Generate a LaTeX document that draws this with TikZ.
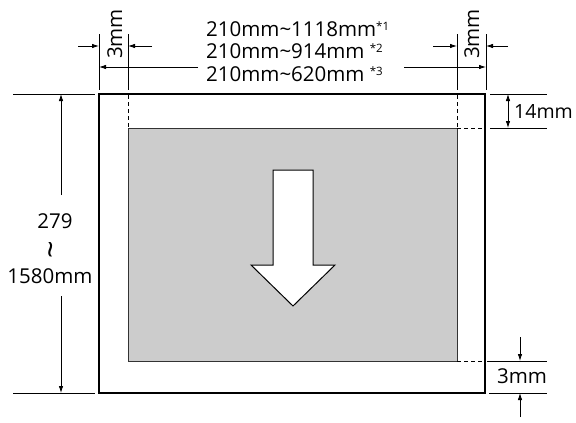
\documentclass[tikz,border=0pt]{standalone}
\usepackage{fontspec}
\setmainfont{Open Sans}
\usetikzlibrary{arrows.meta}
\newcommand{\sups}[1]{{\fontsize{11.5}{12}\selectfont\raisebox{5.5pt}{#1}}}
\newcommand{\tld}{{\char"7E}}
\begin{document}
\begin{tikzpicture}[x=1pt,y=-1pt,
  dimline/.style={line width=0.8pt},
  dimarrow/.style={line width=0.8pt,-{Latex[length=7pt,width=4.5pt]}},
  dimboth/.style={line width=0.8pt,{Latex[length=7pt,width=4.5pt]}-{Latex[length=7pt,width=4.5pt]}},
  dashline/.style={line width=0.8pt,dash pattern=on 4pt off 3pt},
  lbl/.style={font=\fontsize{20.5}{24}\selectfont,inner sep=0pt}]
\useasboundingbox (0,0) rectangle (576,423);
% paper and print area
\coordinate (pTL) at (99,94); \coordinate (pBR) at (485,393);
\coordinate (aTL) at (128,128); \coordinate (aBR) at (457,361);
\draw[line width=0.8pt,draw=black!80,fill=black!20] (aTL) rectangle (aBR);
\draw[line width=2.4pt] (pTL) rectangle (pBR);
% big arrow
\draw[line width=1pt,fill=white] (273,170) -- (313,170) -- (313,265) -- (335,265) -- (293,306) -- (251,265) -- (273,265) -- cycle;
% dashed margins
\coordinate (dL1) at (128,95); \coordinate (dL2) at (128,128);
\coordinate (dR1) at (457,95); \coordinate (dR2) at (457,128);
\coordinate (dT1) at (457,128); \coordinate (dT2) at (484,128);
\coordinate (dB1) at (457,361); \coordinate (dB2) at (484,361);
\draw[dashline] (dL1) -- (dL2);
\draw[dashline] (dR1) -- (dR2);
\draw[dashline] (dT1) -- (dT2);
\draw[dashline] (dB1) -- (dB2);
% top extension lines
\coordinate (e1a) at (99,34); \coordinate (e1b) at (99,90);
\coordinate (e2a) at (128,34); \coordinate (e2b) at (128,90);
\coordinate (e3a) at (457,34); \coordinate (e3b) at (457,90);
\coordinate (e4a) at (486,34); \coordinate (e4b) at (486,90);
\draw[dimline] (e1a) -- (e1b);
\draw[dimline] (e2a) -- (e2b);
\draw[dimline] (e3a) -- (e3b);
\draw[dimline] (e4a) -- (e4b);
% top 3mm arrows
\coordinate (t1s) at (78,46); \coordinate (t1e) at (99,46);
\coordinate (t2s) at (152,46); \coordinate (t2e) at (128,46);
\coordinate (t3s) at (433,46); \coordinate (t3e) at (457,46);
\coordinate (t4s) at (508,46); \coordinate (t4e) at (486,46);
\draw[dimarrow] (t1s) -- (t1e);
\draw[dimarrow] (t2s) -- (t2e);
\draw[dimarrow] (t3s) -- (t3e);
\draw[dimarrow] (t4s) -- (t4e);
% width dimension
\coordinate (w1s) at (198,67); \coordinate (w1e) at (99,67);
\coordinate (w2s) at (404,67); \coordinate (w2e) at (486,67);
\draw[dimarrow] (w1s) -- (w1e);
\draw[dimarrow] (w2s) -- (w2e);
\node[lbl,rotate=90,anchor=base] (m3L) at (122,34) {3mm};
\node[lbl,rotate=90,anchor=base] (m3R) at (479,34) {3mm};
\node[lbl,anchor=base west] (wA) at (206,36) {210mm\tld1118mm\sups{*1}};
\node[lbl,anchor=base west] (wB) at (206,58) {210mm\tld914mm \sups{*2}};
\node[lbl,anchor=base west] (wC) at (206,81) {210mm\tld620mm \sups{*3}};
% left height dimension
\coordinate (h1a) at (13,94); \coordinate (h1b) at (95,94);
\coordinate (h2a) at (13,393); \coordinate (h2b) at (95,393);
\draw[dimline] (h1a) -- (h1b);
\draw[dimline] (h2a) -- (h2b);
\coordinate (v1s) at (61,195); \coordinate (v1e) at (61,94);
\coordinate (v2s) at (61,296); \coordinate (v2e) at (61,393);
\draw[dimarrow] (v1s) -- (v1e);
\draw[dimarrow] (v2s) -- (v2e);
\node[lbl,anchor=base] (hA) at (55,228) {279};
\node[lbl] (hT) at (55,250) {\rotatebox{90}{\scalebox{1.5}{\tld}}};
\node[lbl,anchor=base] (hB) at (50,283) {1580mm};
% right 14mm
\coordinate (r1a) at (490,94); \coordinate (r1b) at (547,94);
\coordinate (r2a) at (490,128); \coordinate (r2b) at (547,128);
\draw[dimline] (r1a) -- (r1b);
\draw[dimline] (r2a) -- (r2b);
\coordinate (r3a) at (508,94); \coordinate (r3b) at (508,128);
\draw[dimboth] (r3a) -- (r3b);
\node[lbl,anchor=base west,font=\fontsize{19.5}{24}\selectfont] (m14) at (514,118) {14mm};
% bottom 3mm
\coordinate (b1a) at (487,361); \coordinate (b1b) at (547,361);
\coordinate (b2a) at (489,393); \coordinate (b2b) at (547,393);
\draw[dimline] (b1a) -- (b1b);
\draw[dimline] (b2a) -- (b2b);
\coordinate (b3s) at (520,337); \coordinate (b3e) at (520,361);
\coordinate (b4s) at (520,417); \coordinate (b4e) at (520,393);
\draw[dimarrow] (b3s) -- (b3e);
\draw[dimarrow] (b4s) -- (b4e);
\node[lbl,anchor=base west] (m3B) at (497,383) {3mm};
\end{tikzpicture}
\end{document}
